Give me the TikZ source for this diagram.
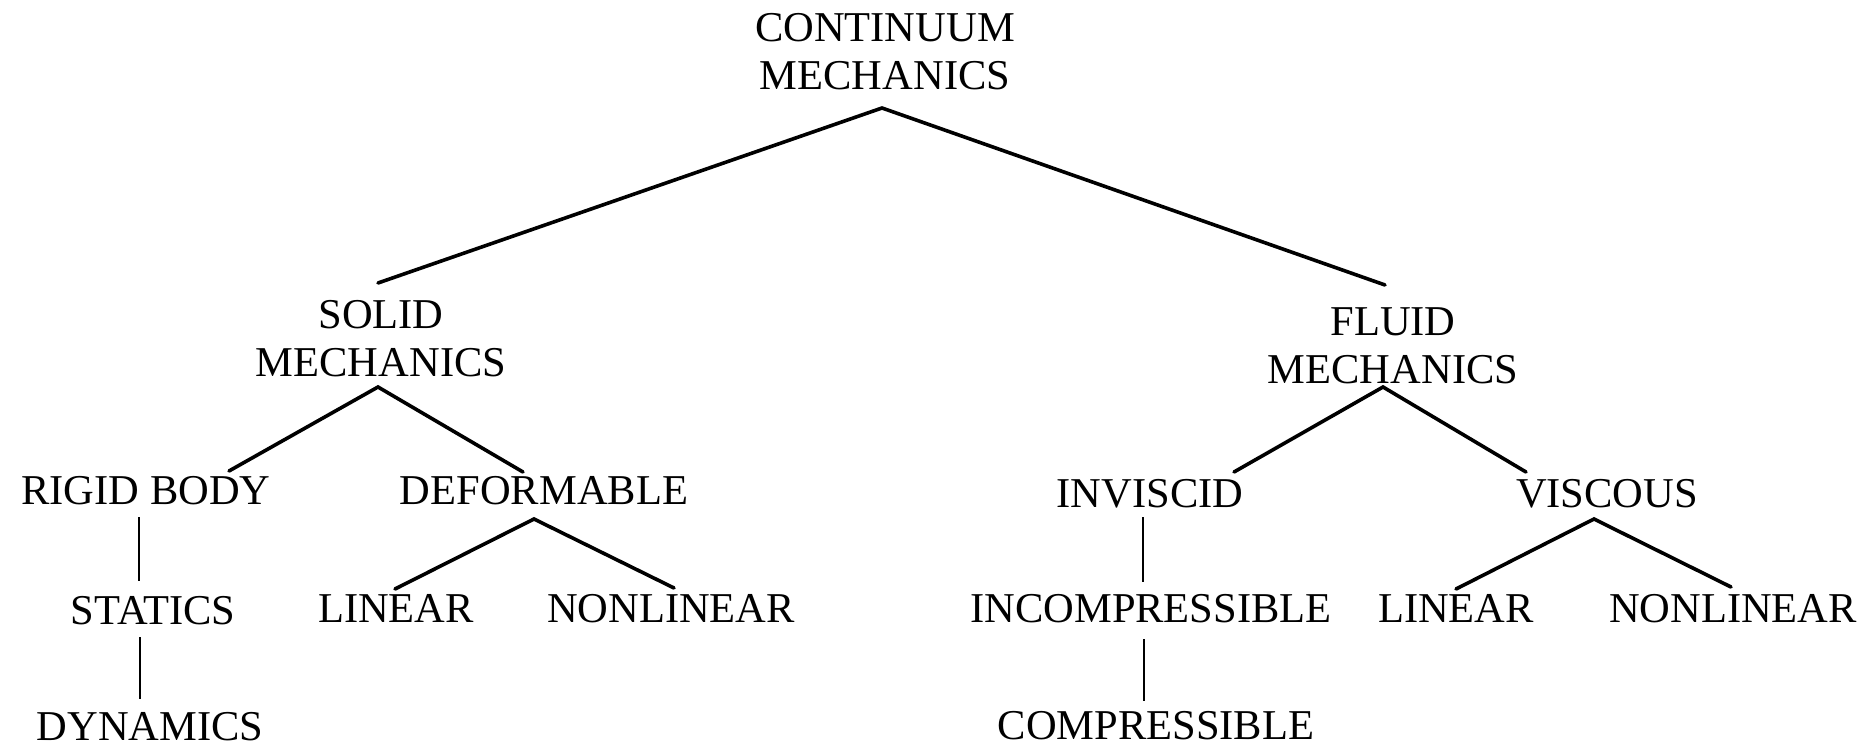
\documentclass[tikz,border=0pt]{standalone}
\usepackage{fontspec}
\setmainfont{Liberation Serif}
\usetikzlibrary{calc}

\tikzset{
  term/.style={anchor=north, inner sep=0pt,
    font=\fontsize{21.25}{24}\selectfont},
  twoline/.style={term, align=center},
  branch/.style={line width=1.8pt, line cap=round},
  chain/.style={line width=1.4pt}
}

\begin{document}
\begin{tikzpicture}[x=0.5pt, y=-0.5pt]
\useasboundingbox (0,0) rectangle (1867,748);

% --- terms ---
\node[twoline] (cm)    at (885,13)  {CONTINUUM\\MECHANICS};
\node[twoline] (solid) at (381,300) {SOLID\\MECHANICS};
\node[twoline] (fluid) at (1393,307) {FLUID\\MECHANICS};

\node[term] (rigid)  at (146,476) {RIGID BODY};
\node[term] (deform) at (544,476) {DEFORMABLE};
\node[term] (inv)    at (1150,479) {INVISCID};
\node[term] (visc)   at (1607,479) {VISCOUS};

\node[term] (stat)   at (153,596) {STATICS};
\node[term] (linA)   at (396,594) {LINEAR};
\node[term] (nlA)    at (671,594) {NONLINEAR};
\node[term] (incomp) at (1151,594) {INCOMPRESSIBLE};
\node[term] (linB)   at (1456,594) {LINEAR};
\node[term] (nlB)    at (1733,594) {NONLINEAR};

\node[term] (dyn)    at (150,712) {DYNAMICS};
\node[term] (comp)   at (1156,711) {COMPRESSIBLE};

% --- continuum mechanics split ---
\draw[branch] ($(solid.north)+(-3,-17)$) -- ($(cm.north)+(-3,95)$)
  -- ($(fluid.north)+(-8,-22)$);

% --- solid mechanics ---
\draw[branch] ($(rigid.north)+(83,-5)$) -- ($(solid.north)+(-3,87)$)
  -- ($(deform.north)+(-21,-4)$);
\draw[chain] ($(rigid.north)+(-7,41)$) -- ($(stat.north)+(-14,-15)$);
\draw[chain] ($(stat.north)+(-13,41)$) -- ($(dyn.north)+(-10,-13)$);
\draw[branch] ($(linA.north)+(-1,-5)$) -- ($(deform.north)+(-10,43)$)
  -- ($(nlA.north)+(3,-6)$);

% --- fluid mechanics ---
\draw[branch] ($(inv.north)+(84,-7)$) -- ($(fluid.north)+(-10,80)$)
  -- ($(visc.north)+(-81,-7)$);
\draw[chain] ($(inv.north)+(-7,38)$) -- ($(incomp.north)+(-8,-12)$);
\draw[chain] ($(incomp.north)+(-7,45)$) -- ($(comp.north)+(-12,-10)$);
\draw[branch] ($(linB.north)+(0,-5)$) -- ($(visc.north)+(-13,40)$)
  -- ($(nlB.north)+(-2,-7)$);
\end{tikzpicture}
\end{document}
